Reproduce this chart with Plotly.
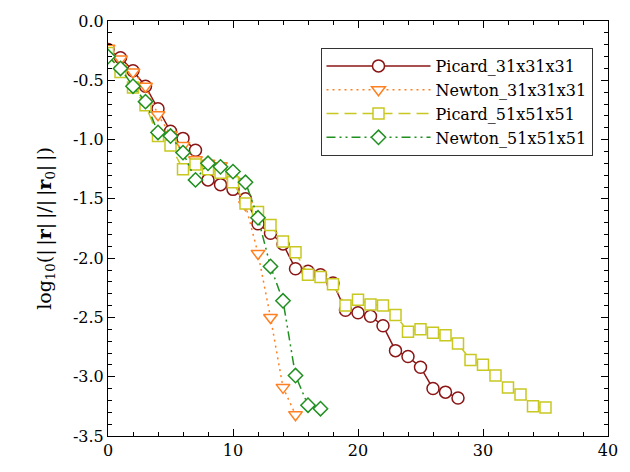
import plotly.graph_objects as go

# Residual history: log10(||r|| / ||r0||) per nonlinear iteration
picard_31 = [-0.24, -0.31, -0.42, -0.55, -0.74, -0.93, -0.99, -1.09, -1.34, -1.38,
             -1.42, -1.50, -1.71, -1.79, -1.88, -2.09, -2.11, -2.14, -2.21, -2.44,
             -2.46, -2.49, -2.57, -2.78, -2.83, -2.92, -3.10, -3.13, -3.18]
newton_31 = [-0.23, -0.32, -0.43, -0.55, -0.79, -0.96, -1.05, -1.17, -1.20, -1.22,
             -1.35, -1.55, -1.96, -2.50, -3.09, -3.32]
picard_51 = [-0.27, -0.43, -0.56, -0.71, -0.97, -1.05, -1.25, -1.21, -1.25, -1.28,
             -1.36, -1.54, -1.61, -1.72, -1.86, -1.95, -2.14, -2.16, -2.22, -2.40,
             -2.35, -2.39, -2.40, -2.48, -2.62, -2.60, -2.63, -2.65, -2.72, -2.86,
             -2.90, -2.99, -3.09, -3.15, -3.25, -3.26]
newton_51 = [-0.30, -0.40, -0.55, -0.68, -0.94, -0.97, -1.11, -1.34, -1.20, -1.23,
             -1.27, -1.36, -1.66, -2.07, -2.36, -2.99, -3.24, -3.27]

series = [
    ("Picard_31x31x31", picard_31, "#8b1515", "solid", "circle", 12),
    ("Newton_31x31x31", newton_31, "#ff8020", "2px,4px", "triangle-down", 12),
    ("Picard_51x51x51", picard_51, "#c8c820", "12px,6px", "square", 11),
    ("Newton_51x51x51", newton_51, "#209020", "9px,4px,2px,4px,2px,4px", "diamond", 11),
]

y_ticks = [0.0, -0.5, -1.0, -1.5, -2.0, -2.5, -3.0, -3.5]
y_labels = ["0.0", "-0.5", "-1.0", "-1.5", "-2.0", "-2.5", "-3.0", "-3.5"]
x_ticks = [0, 10, 20, 30, 40]
x_labels = ["0", "10", "20", "30", "40"]

font_family = "DejaVu Serif"
thin = "&#8201;"
y_title = ("log<sub>10</sub>(|" + thin + "|<b>r</b>|" + thin + "|/|" + thin +
           "|<b>r</b><sub>0</sub>|" + thin + "|)")

fig = go.Figure()
for name, vals, color, dash, symbol, size in series:
    fig.add_trace(go.Scatter(
        x=list(range(len(vals))), y=vals, name=name, mode="lines+markers",
        line=dict(color=color, width=1.5, dash=dash),
        marker=dict(symbol=symbol, size=size, color="white",
                    line=dict(color=color, width=1.5)),
    ))

axis_common = dict(
    showline=True, linecolor="black", linewidth=1, mirror="ticks",
    ticks="inside", ticklen=7, tickcolor="black", tickwidth=1,
    showgrid=False, zeroline=False,
    tickfont=dict(family=font_family, size=16, color="black"),
)

fig.update_xaxes(
    range=[0, 40], tickmode="array", tickvals=x_ticks, ticktext=x_labels,
    minor=dict(ticks="inside", ticklen=4, dtick=2, tickcolor="black", showgrid=False),
    **axis_common,
)
fig.update_yaxes(
    range=[-3.5, 0.0], tickmode="array", tickvals=y_ticks, ticktext=y_labels,
    minor=dict(ticks="inside", ticklen=4, dtick=0.1, tickcolor="black", showgrid=False),
    title=dict(text=y_title,
               font=dict(family=font_family, size=19, color="black"), standoff=16),
    **axis_common,
)

fig.update_layout(
    width=630, height=472,
    margin=dict(l=108, r=17, t=16, b=36),
    paper_bgcolor="white", plot_bgcolor="white",
    showlegend=True,
    legend=dict(
        x=0.425, y=0.935, xanchor="left", yanchor="top",
        bgcolor="white", bordercolor="#333333", borderwidth=1,
        font=dict(family=font_family, size=16, color="black"),
        itemwidth=104, tracegroupgap=0,
    ),
)

fig.write_html("out.html")
